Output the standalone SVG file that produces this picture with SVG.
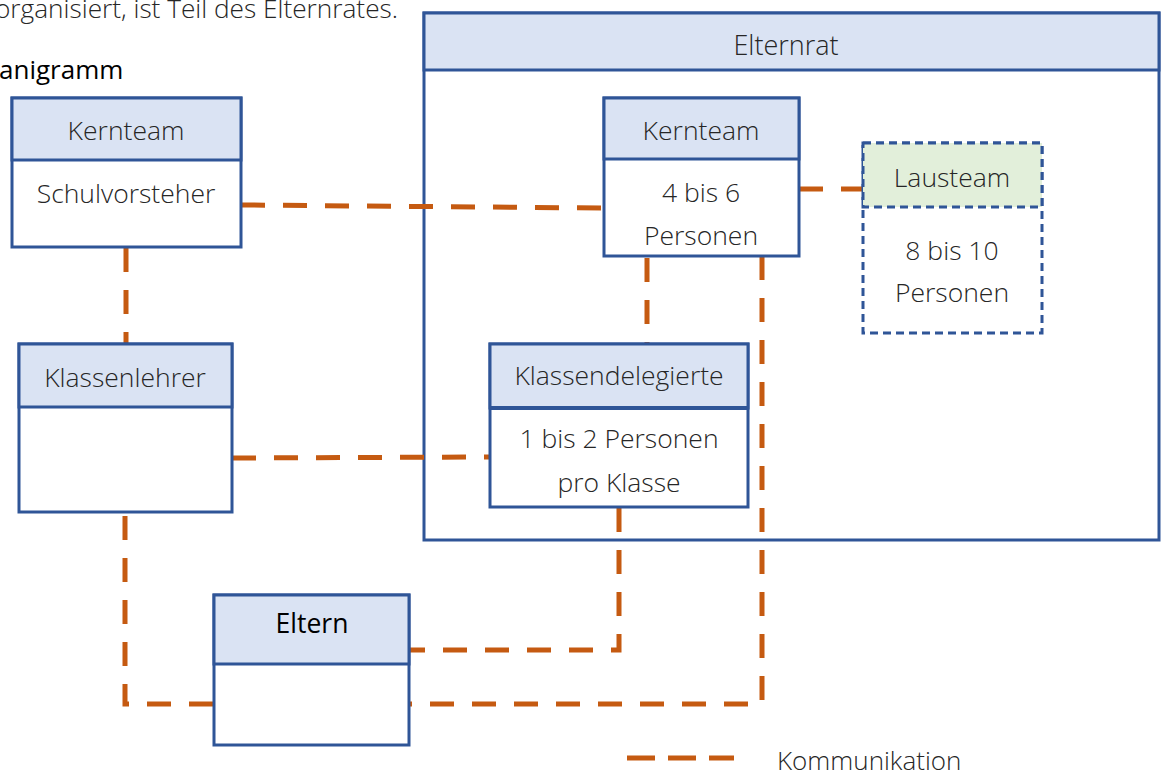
<svg xmlns="http://www.w3.org/2000/svg" width="1167" height="775" viewBox="0 0 1167 775">
<style>
text{font-family:"Open Sans","Liberation Sans",sans-serif;font-weight:300;fill:#262626;font-size:26.5px}
.c{text-anchor:middle}
.box{fill:#fff;stroke:#2F5597;stroke-width:3}
.hdr{fill:#DAE3F3;stroke:#2F5597;stroke-width:3}
.dbox{fill:#fff;stroke:#2F5597;stroke-width:3;stroke-dasharray:8 5}
.dhdr{fill:#E2EFDA;stroke:#2F5597;stroke-width:3;stroke-dasharray:8 5}
.con{fill:none;stroke:#C55A11;stroke-width:5;stroke-dasharray:24 18}
</style>
<text x="-5" y="18" style="font-size:26px" textLength="403" lengthAdjust="spacingAndGlyphs">organisiert, ist Teil des Elternrates.</text>
<text x="-1" y="79" style="font-size:26px;font-weight:400;fill:#000">anigramm</text>

<g id="elternrat">
<rect class="box" x="424" y="13" width="735" height="527"/>
<rect class="hdr" x="424" y="13" width="735" height="57"/>
<text class="c" x="786" y="55" style="font-size:27px">Elternrat</text>
</g>

<g id="connectors">
<path class="con" d="M241,205 L604,208"/>
<path class="con" d="M799,189 L863,189"/>
<path class="con" d="M126,248 L126,344"/>
<path class="con" d="M232,458 L490,457"/>
<path class="con" d="M647,258 L647,344"/>
<path class="con" d="M762,256 L762,704 L409,704"/>
<path class="con" d="M619,508 L619,650 L409,650"/>
<path class="con" d="M125,516 L125,704 L214,704"/>
</g>

<g id="kernteam-schule">
<rect class="box" x="12" y="98" width="229" height="149"/>
<rect class="hdr" x="12" y="98" width="229" height="62"/>
<text class="c" x="126" y="140">Kernteam</text>
<text class="c" x="126" y="203">Schulvorsteher</text>
</g>

<g id="kernteam-elternrat">
<rect class="box" x="604" y="98" width="195" height="158"/>
<rect class="hdr" x="604" y="98" width="195" height="61"/>
<text class="c" x="701" y="140">Kernteam</text>
<text class="c" x="701" y="202">4 bis 6</text>
<text class="c" x="701" y="245">Personen</text>
</g>

<g id="lausteam">
<rect class="dbox" x="863" y="143" width="179" height="190"/>
<rect class="dhdr" x="863" y="143" width="179" height="64"/>
<text class="c" x="952" y="187">Lausteam</text>
<text class="c" x="952" y="260">8 bis 10</text>
<text class="c" x="952" y="302">Personen</text>
</g>

<g id="klassenlehrer">
<rect class="box" x="19" y="344" width="213" height="168"/>
<rect class="hdr" x="19" y="344" width="213" height="63"/>
<text class="c" x="125" y="387">Klassenlehrer</text>
</g>

<g id="klassendelegierte">
<rect class="box" x="490" y="344" width="258" height="163"/>
<rect class="hdr" x="490" y="344" width="258" height="64"/>
<line x1="490" y1="408" x2="748" y2="408" stroke="#2F5597" stroke-width="4"/>
<text class="c" x="619" y="385">Klassendelegierte</text>
<text class="c" x="619" y="448">1 bis 2 Personen</text>
<text class="c" x="619" y="492">pro Klasse</text>
</g>

<g id="eltern">
<rect class="box" x="214" y="595" width="195" height="150"/>
<rect class="hdr" x="214" y="595" width="195" height="69"/>
<text class="c" x="312" y="633" style="font-weight:400;fill:#000">Eltern</text>
</g>

<g id="legend">
<line x1="627" y1="758" x2="734" y2="758" stroke="#C55A11" stroke-width="5" stroke-dasharray="28 13"/>
<text x="777" y="770" style="font-size:26px">Kommunikation</text>
</g>
</svg>
